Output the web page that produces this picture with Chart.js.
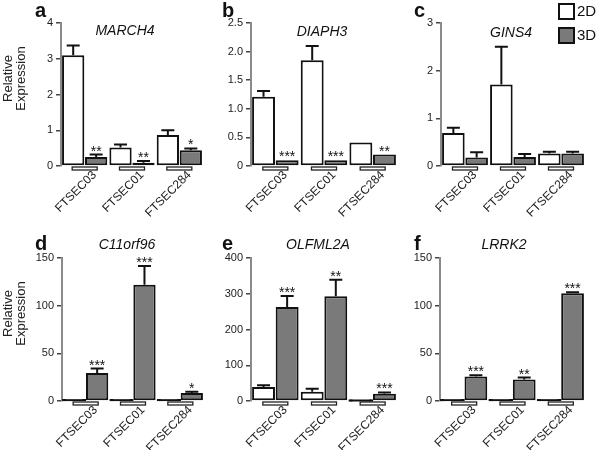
<!DOCTYPE html>
<html>
<head>
<meta charset="utf-8">
<title>Relative Expression 2D vs 3D</title>
<script src="https://cdn.jsdelivr.net/npm/chart.js@4.4.0/dist/chart.umd.min.js"></script>
<style>
  html, body { margin: 0; padding: 0; background: #fff; }
  #figure { position: relative; width: 600px; height: 450px; overflow: hidden; }
  #figure canvas { position: absolute; }
</style>
</head>
<body>
<div id="figure">
  <canvas id="panelA"></canvas>
  <canvas id="panelB"></canvas>
  <canvas id="panelC"></canvas>
  <canvas id="panelD"></canvas>
  <canvas id="panelE"></canvas>
  <canvas id="panelF"></canvas>
</div>
<script>
// ==================== Data ====================
const cellLines = ['FTSEC03', 'FTSEC01', 'FTSEC284'];
const legendLabels = ['2D', '3D'];
const yAxisLabel = ['Relative', 'Expression'];

// a - MARCH4
const march4Ticks = [0, 1, 2, 3, 4];
const march4Mean2D = [3.1, 0.52, 0.87];
const march4Err2D = [0.27, 0.08, 0.13];
const march4Mean3D = [0.25, 0.09, 0.44];
const march4Err3D = [0.07, 0.05, 0.05];
const march4Stars = ['**', '**', '*'];

// b - DIAPH3
const diaph3Ticks = [0, 0.5, 1.0, 1.5, 2.0, 2.5];
const diaph3Mean2D = [1.21, 1.85, 0.41];
const diaph3Err2D = [0.1, 0.25, 0];
const diaph3Mean3D = [0.1, 0.1, 0.2];
const diaph3Err3D = [0, 0, 0];
const diaph3Stars = ['***', '***', '**'];

// c - GINS4
const gins4Ticks = [0, 1, 2, 3];
const gins4Mean2D = [0.69, 1.71, 0.26];
const gins4Err2D = [0.11, 0.79, 0.04];
const gins4Mean3D = [0.18, 0.19, 0.26];
const gins4Err3D = [0.11, 0.06, 0.04];
const gins4Stars = ['', '', ''];

// d - C11orf96
const c11orf96Ticks = [0, 50, 100, 150];
const c11orf96Mean2D = [1, 1, 1];
const c11orf96Err2D = [0, 0, 0];
const c11orf96Mean3D = [29.5, 122, 8.4];
const c11orf96Err3D = [4.5, 19.5, 1.2];
const c11orf96Stars = ['***', '***', '*'];

// e - OLFML2A
const olfml2aTicks = [0, 100, 200, 300, 400];
const olfml2aMean2D = [39, 26, 1];
const olfml2aErr2D = [5, 8, 0];
const olfml2aMean3D = [263, 293, 20];
const olfml2aErr3D = [31, 46, 4];
const olfml2aStars = ['***', '**', '***'];

// f - LRRK2
const lrrk2Ticks = [0, 50, 100, 150];
const lrrk2Mean2D = [1, 1, 1];
const lrrk2Err2D = [0, 0, 0];
const lrrk2Mean3D = [25.8, 22.6, 113];
const lrrk2Err3D = [1.2, 2, 1];
const lrrk2Stars = ['***', '**', '***'];

// ==================== Styles ====================
const FONT = '"Liberation Sans", Arial, Helvetica, sans-serif';
const INK = '#111';
const FILL_2D = '#ffffff';
const FILL_3D = '#7a7a7a';

// ==================== Panel layout ====================
const panels = [
    { id: 'panelA', letter: 'a', gene: 'MARCH4', ticks: march4Ticks, decimals: 0,
      mean2D: march4Mean2D, err2D: march4Err2D, mean3D: march4Mean3D, err3D: march4Err3D, stars: march4Stars,
      box: { left: 0, top: 0, width: 206, height: 225 }, pad: { left: 61, right: 3, top: 23, bottom: 59 },
      letterX: 35, letterY: 17, titleX: 125, titleY: 31, yLabel: true, legend: false },
    { id: 'panelB', letter: 'b', gene: 'DIAPH3', ticks: diaph3Ticks, decimals: 1,
      mean2D: diaph3Mean2D, err2D: diaph3Err2D, mean3D: diaph3Mean3D, err3D: diaph3Err3D, stars: diaph3Stars,
      box: { left: 200, top: 0, width: 200, height: 225 }, pad: { left: 51, right: 3, top: 23, bottom: 59 },
      letterX: 22, letterY: 17, titleX: 122, titleY: 32, yLabel: false, legend: false },
    { id: 'panelC', letter: 'c', gene: 'GINS4', ticks: gins4Ticks, decimals: 0,
      mean2D: gins4Mean2D, err2D: gins4Err2D, mean3D: gins4Mean3D, err3D: gins4Err3D, stars: gins4Stars,
      box: { left: 400, top: 0, width: 200, height: 225 }, pad: { left: 41, right: 15, top: 23, bottom: 59 },
      letterX: 14, letterY: 17, titleX: 111, titleY: 33, yLabel: false, legend: true },
    { id: 'panelD', letter: 'd', gene: 'C11orf96', ticks: c11orf96Ticks, decimals: 0,
      mean2D: c11orf96Mean2D, err2D: c11orf96Err2D, mean3D: c11orf96Mean3D, err3D: c11orf96Err3D, stars: c11orf96Stars,
      box: { left: 0, top: 225, width: 206, height: 225 }, pad: { left: 62, right: 2, top: 33, bottom: 49 },
      letterX: 35, letterY: 25, titleX: 127, titleY: 20, yLabel: true, legend: false },
    { id: 'panelE', letter: 'e', gene: 'OLFML2A', ticks: olfml2aTicks, decimals: 0,
      mean2D: olfml2aMean2D, err2D: olfml2aErr2D, mean3D: olfml2aMean3D, err3D: olfml2aErr3D, stars: olfml2aStars,
      box: { left: 200, top: 225, width: 200, height: 225 }, pad: { left: 51, right: 3, top: 33, bottom: 49 },
      letterX: 22, letterY: 25, titleX: 118, titleY: 20, yLabel: false, legend: false },
    { id: 'panelF', letter: 'f', gene: 'LRRK2', ticks: lrrk2Ticks, decimals: 0,
      mean2D: lrrk2Mean2D, err2D: lrrk2Err2D, mean3D: lrrk2Mean3D, err3D: lrrk2Err3D, stars: lrrk2Stars,
      box: { left: 400, top: 225, width: 200, height: 225 }, pad: { left: 40, right: 15, top: 33, bottom: 49 },
      letterX: 14, letterY: 25, titleX: 104, titleY: 20, yLabel: false, legend: false }
];

// ==================== Decoration plugin ====================
// error bars, significance stars, x-axis brackets, titles, letters, legend
const figureDecor = {
    id: 'figureDecor',
    afterDatasetsDraw(chart) {
        const panel = chart.options.plugins.figureDecor.panel;
        const ctx = chart.ctx;
        const y = chart.scales.y;
        const x = chart.scales.x;
        const errs = [panel.err2D, panel.err3D];

        ctx.save();
        ctx.strokeStyle = INK;
        ctx.lineWidth = 2;
        chart.data.datasets.forEach((ds, di) => {
            const meta = chart.getDatasetMeta(di);
            meta.data.forEach((bar, i) => {
                const err = errs[di][i];
                if (!err) return;
                const top = y.getPixelForValue(ds.data[i] + err);
                ctx.beginPath();
                ctx.moveTo(bar.x, bar.y);
                ctx.lineTo(bar.x, top);
                ctx.moveTo(bar.x - 6.5, top);
                ctx.lineTo(bar.x + 6.5, top);
                ctx.stroke();
            });
        });

        // stars over the 3D bars
        const meta3D = chart.getDatasetMeta(1);
        ctx.fillStyle = INK;
        ctx.font = '14px ' + FONT;
        ctx.textAlign = 'center';
        ctx.textBaseline = 'alphabetic';
        meta3D.data.forEach((bar, i) => {
            const s = panel.stars[i];
            if (!s) return;
            const top = y.getPixelForValue(panel.mean3D[i] + panel.err3D[i]);
            ctx.fillText(s, bar.x, top + 1);
        });

        // little bracket under each group
        const zero = y.getPixelForValue(0);
        ctx.lineWidth = 1.3;
        ctx.strokeStyle = '#222';
        cellLines.forEach((c, i) => {
            const cx = x.getPixelForValue(i);
            ctx.fillStyle = '#fff';
            ctx.fillRect(cx - 12.5, zero + 1, 25, 3);
            ctx.strokeRect(cx - 12.5, zero + 1, 25, 3);
        });
        ctx.restore();
    },
    afterDraw(chart) {
        const panel = chart.options.plugins.figureDecor.panel;
        const ctx = chart.ctx;
        ctx.save();
        ctx.fillStyle = INK;

        // panel letter
        ctx.font = 'bold 20px ' + FONT;
        ctx.textAlign = 'left';
        ctx.textBaseline = 'alphabetic';
        ctx.fillText(panel.letter, panel.letterX, panel.letterY);

        // gene name
        ctx.font = 'italic 14px ' + FONT;
        ctx.textAlign = 'center';
        ctx.textBaseline = 'middle';
        ctx.fillText(panel.gene, panel.titleX, panel.titleY);

        // y axis label
        if (panel.yLabel) {
            const cy = (chart.chartArea.top + chart.chartArea.bottom) / 2 - 16;
            ctx.font = '13px ' + FONT;
            ctx.fillStyle = '#222';
            yAxisLabel.forEach((line, i) => {
                ctx.save();
                ctx.translate(8 + i * 13, cy);
                ctx.rotate(-Math.PI / 2);
                ctx.fillText(line, 0, 0);
                ctx.restore();
            });
        }

        // legend
        if (panel.legend) {
            const fills = [FILL_2D, FILL_3D];
            ctx.font = '15px ' + FONT;
            ctx.textAlign = 'left';
            legendLabels.forEach((lab, i) => {
                const bx = chart.width - 41;
                const by = 4 + i * 24;
                ctx.fillStyle = fills[i];
                ctx.fillRect(bx, by, 15, 15);
                ctx.strokeStyle = INK;
                ctx.lineWidth = 2;
                ctx.strokeRect(bx, by, 15, 15);
                ctx.fillStyle = INK;
                ctx.fillText(lab, bx + 18, by + 8);
            });
        }
        ctx.restore();
    }
};

// ==================== Build charts ====================
function buildPanel(panel) {
    const canvas = document.getElementById(panel.id);
    canvas.width = panel.box.width;
    canvas.height = panel.box.height;
    canvas.style.left = panel.box.left + 'px';
    canvas.style.top = panel.box.top + 'px';

    const yMax = panel.ticks[panel.ticks.length - 1];
    const tiny = c => c.raw !== undefined && c.raw / yMax < 0.02;

    const barStyle = fill => ({
        backgroundColor: c => (tiny(c) ? INK : fill),
        borderColor: INK,
        borderWidth: 2,
        borderSkipped: false,
        inflateAmount: c => (tiny(c) ? 1 : 'auto'),
        categoryPercentage: 0.97,
        barPercentage: 0.97,
        clip: false
    });

    return new Chart(canvas.getContext('2d'), {
        type: 'bar',
        data: {
            labels: cellLines,
            datasets: [
                Object.assign({ label: legendLabels[0], data: panel.mean2D }, barStyle(FILL_2D)),
                Object.assign({ label: legendLabels[1], data: panel.mean3D }, barStyle(FILL_3D))
            ]
        },
        options: {
            responsive: false,
            animation: false,
            devicePixelRatio: 1,
            layout: { padding: { left: 0, right: panel.pad.right, top: panel.pad.top, bottom: 0 } },
            plugins: {
                legend: { display: false },
                tooltip: { enabled: false },
                figureDecor: { panel: panel }
            },
            scales: {
                x: {
                    grid: { display: false, drawTicks: false },
                    border: { display: false },
                    ticks: {
                        color: '#222',
                        font: { family: FONT, size: 12 },
                        minRotation: 45,
                        maxRotation: 45,
                        padding: 2,
                        labelOffset: 10,
                        autoSkip: false
                    },
                    afterFit: s => { s.height = panel.pad.bottom; }
                },
                y: {
                    min: 0,
                    max: yMax,
                    grid: { drawOnChartArea: false, drawTicks: true, tickLength: 5, color: '#444', lineWidth: 1.5 },
                    border: { display: true, color: '#8a8a8a', width: 2 },
                    ticks: {
                        color: '#222',
                        padding: 3,
                        font: { family: FONT, size: 11 },
                        callback: v => (v === 0 ? '0' : v.toFixed(panel.decimals))
                    },
                    afterBuildTicks: s => { s.ticks = panel.ticks.map(v => ({ value: v })); },
                    afterFit: s => { s.width = panel.pad.left; }
                }
            }
        },
        plugins: [figureDecor]
    });
}

panels.forEach(buildPanel);
</script>
</body>
</html>
